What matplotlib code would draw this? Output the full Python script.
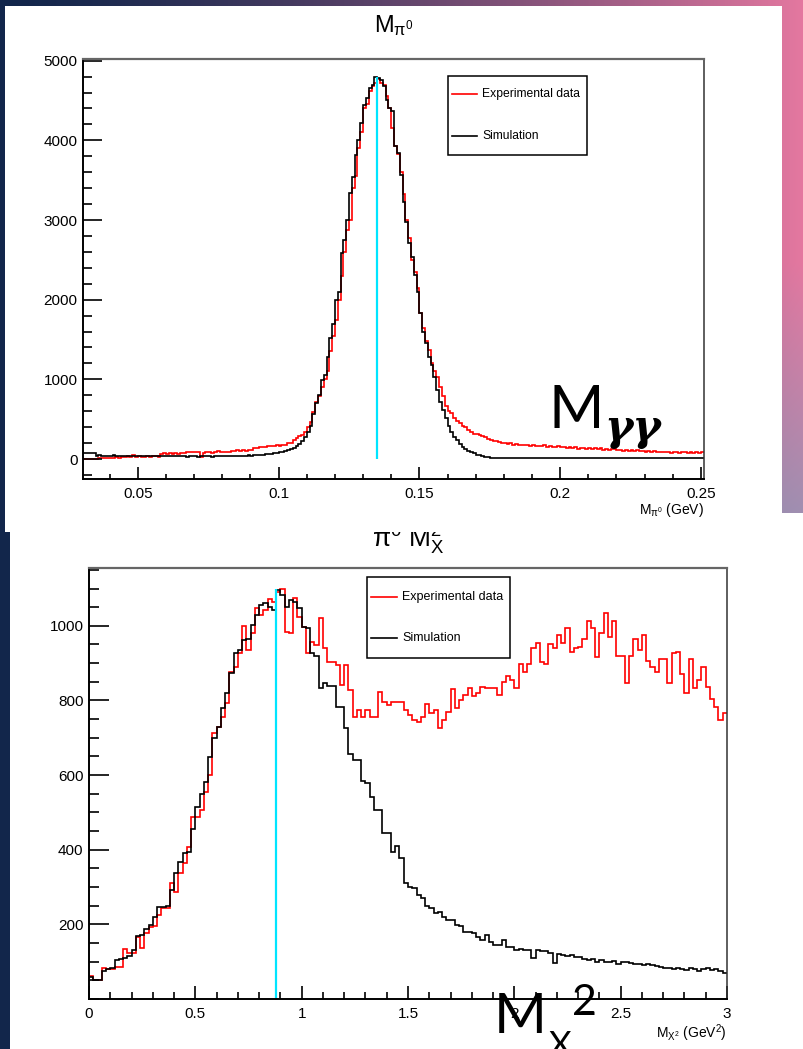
import numpy as np
import matplotlib
matplotlib.use('Agg')
import matplotlib.pyplot as plt
from matplotlib.ticker import MultipleLocator, FuncFormatter
from matplotlib.patches import Rectangle

# ---------------- data ----------------
top_bin_start = 0.030
top_bin_width = 0.001
top_sim = [
    75, 72, 78, 70, 74,
    40, 45, 38, 42, 36, 40, 44, 38, 35, 41,
    37, 40, 35, 38, 42, 36, 39, 33, 37, 41,
    35, 38, 34, 37, 40, 32, 36, 39, 35, 33,
    38, 36, 31, 35, 38, 34, 30, 35, 37, 33,
    36, 31, 35, 38, 34, 36, 32, 37, 40, 35,
    38, 42, 39, 41, 45, 43, 48, 46, 52, 55,
    58, 62, 68, 72, 80, 86, 92, 100, 110,
    120, 135, 160, 190, 230, 280, 340, 420, 570, 700,
    804, 990, 1055, 1285, 1516, 1700, 1997, 2100, 2584, 2750,
    3003, 3338, 3546, 3819, 4008, 4217, 4447, 4531, 4657, 4698,
    4790, 4782, 4761, 4677, 4510, 4405, 4363, 3923, 3840, 3570,
    3220, 2980, 2710, 2540, 2310, 2100, 1830, 1600, 1450, 1280,
    1180, 1030, 870, 720, 616, 520, 420, 340, 280, 235,
    190, 155, 125, 105, 85, 70, 55, 45, 35, 28,
    22, 16, 12,
    10, 12, 9, 11, 10, 8, 12, 10, 9, 11,
    10, 8, 9, 12, 10, 11, 9, 8, 10, 12,
    9, 10, 11, 8, 10, 9, 12, 10, 8, 11,
    9, 10, 12, 9, 8, 10, 11, 9, 10, 8,
    12, 10, 9, 11, 10, 8, 9, 10, 12, 9,
    11, 10, 8, 10, 9, 11, 10, 12, 9, 8,
    10, 11, 9, 10, 8, 12, 10, 9, 11, 10,
    14, 9, 10, 8,
]
top_exp = [
    0, 0, 2, 0, 3, 5, 8,
    12, 15, 10, 18, 14, 20, 16, 22, 25,
    40, 30, 45, 28, 35,
    30, 25, 35, 28, 32, 38, 30,
    62, 70, 66, 75, 68, 72, 60, 74, 70,
    85, 90, 82, 88, 86,
    30,
    78, 85, 92, 80, 88, 95, 84, 90, 86, 94, 98,
    100, 108, 104, 112, 106, 110, 118,
    140, 132, 148, 145, 150,
    160, 168, 158, 172, 165, 175, 180,
    195, 200,
    240, 260, 285, 300, 340, 400, 460,
    590, 720,
    790, 900, 1000, 1100, 1350, 1550, 1750, 2000, 2300, 2600,
    2880, 3000, 3400, 3550, 3900, 4100, 4400, 4450, 4620, 4680,
    4720, 4770, 4720, 4690, 4560, 4400, 4150, 3930, 3830,
    3600, 3330, 3000, 2780, 2500, 2350, 2150, 1830, 1650, 1480,
    1370, 1200, 1100, 1030, 900, 790, 660, 600, 575, 520,
    480, 450, 420, 400, 370, 340, 320, 310, 300, 290,
    270, 250, 240, 230, 220, 210, 205, 200,
    190, 195, 180, 188, 176, 182, 170, 175, 168, 172,
    160, 165, 158, 170, 150, 162, 155, 148, 158, 145,
    150, 140, 152, 138, 145, 130, 142, 135, 128, 140,
    125, 132, 120, 135, 118, 128, 115, 122, 130, 112,
    118, 105, 115, 100, 112, 98, 108, 95, 104, 92,
    100, 88, 96, 85, 94, 82, 90, 86, 80, 92,
    84, 78, 90, 82, 76, 88, 80, 85, 78, 82,
]
top_marker = 0.1351
top_marker_top = 4795

bot_bin_start = 0.0
bot_bin_width = 0.02
bot_sim = [
    60, 50, 52, 75, 80, 83, 104, 108, 110, 116,
    131, 168, 172, 187, 198, 220, 246, 246, 250, 292,
    338, 368, 392, 395, 455, 514, 549, 582, 649, 700,
    730, 780, 821, 873, 926, 935, 962, 966, 1002, 1029,
    1056, 1060, 1051, 1042, 1096, 1083, 1051, 1069, 1065, 1047,
    998, 993, 927, 920, 833, 846, 840, 840, 783, 783,
    726, 656, 640, 640, 584, 578, 542, 506, 506, 444,
    444, 395, 410, 377, 310, 300, 297, 279, 270, 250,
    245, 230, 234, 220, 212, 212, 198, 195, 180, 180,
    176, 167, 158, 171, 154, 145, 145, 158, 140, 140,
    131, 133, 131, 130, 109, 131, 128, 128, 122, 97,
    120, 118, 116, 118, 112, 112, 108, 104, 106, 100,
    104, 100, 98, 102, 95, 98, 100, 96, 94, 95,
    92, 95, 90, 88, 86, 84, 82, 80, 84, 80,
    78, 82, 80, 76, 80, 82, 78, 80, 74, 69,
]
bot_exp = [
    61, 50, 52, 82, 80, 80, 86, 86, 134, 122,
    122, 167, 136, 178, 193, 195, 225, 243, 243, 310,
    288, 337, 364, 408, 488, 488, 506, 555, 600, 712,
    730, 756, 792, 877, 890, 927, 1000, 935, 980, 1047,
    1029, 1042, 1072, 1065, 1091, 1100, 984, 981, 1074, 1024,
    998, 928, 957, 948, 1020, 940, 904, 904, 895, 841,
    895, 828, 757, 775, 757, 775, 757, 757, 824, 797,
    788, 797, 797, 797, 775, 760, 748, 743, 757, 790,
    766, 775, 725, 748, 768, 830, 779, 801, 815, 833,
    812, 819, 837, 834, 834, 834, 815, 850, 865, 855,
    833, 899, 875, 899, 940, 953, 904, 899, 950, 940,
    975, 953, 993, 931, 940, 944, 966, 1013, 993, 917,
    981, 1034, 969, 1014, 919, 919, 848, 919, 966, 935,
    975, 906, 890, 877, 910, 910, 848, 926, 931, 872,
    819, 910, 833, 855, 890, 837, 805, 783, 748, 766,
]
bot_marker = 0.879
bot_marker_top = 1100

legend_labels = ['Experimental data', 'Simulation']
series_colors = ['#ff0000', '#000000']
top_title = r'M$_{\mathrm{π}^{0}}$'
bot_title = r'$\mathrm{π}^{0}$ M$_{X}^{2}$'
top_xlabel = r'M$_{\mathrm{π}^{0}}$ (GeV)'
bot_xlabel = r'M$_{X^{2}}$ (GeV$^{2}$)'

assert len(top_sim) == 221 and len(top_exp) == 221
assert len(bot_sim) == 150 and len(bot_exp) == 150

# ---------------- style ----------------
plt.rcParams['font.family'] = ['Liberation Sans', 'DejaVu Sans']
plt.rcParams['mathtext.fontset'] = 'custom'
plt.rcParams['mathtext.rm'] = 'Liberation Sans'
plt.rcParams['mathtext.it'] = 'Liberation Sans:italic'
plt.rcParams['mathtext.bf'] = 'Liberation Sans:bold'
plt.rcParams['mathtext.default'] = 'regular'

W, H = 804, 1049
fig = plt.figure(figsize=(W / 100, H / 100), dpi=100)

# background (decoration)
bg = fig.add_axes([0, 0, 1, 1], zorder=0)
bg.set_xlim(0, W)
bg.set_ylim(H, 0)
bg.axis('off')
xx = np.linspace(0, 1, W)[None, :, None]
yy = np.linspace(0, 1, H)[:, None, None]
navy = np.array([18, 38, 75]) / 255
pink = np.array([228, 120, 160]) / 255
teal = np.array([110, 160, 190]) / 255
img = navy * (1 - xx ** 1.4) + pink * xx ** 1.4
s = np.clip((yy - 0.25) / 0.25, 0, 1) * (xx > 0.95)
img = img * (1 - 0.6 * s) + teal * 0.6 * s
img = np.broadcast_to(img, (H, W, 3))
bg.imshow(img, extent=(0, W, H, 0), aspect='auto', zorder=0)
bg.add_patch(Rectangle((10, 513), W - 10, H - 513, facecolor='white',
                       edgecolor='none', zorder=1))
bg.text(408, 548, bot_title, fontsize=19, ha='center', va='baseline', zorder=2)
bg.add_patch(Rectangle((5, 6), 777, 526, facecolor='white',
                       edgecolor='none', zorder=3))
bg.text(394, 32, top_title, fontsize=17, ha='center', va='baseline', zorder=4)


def style_axes(ax, ymaj_len, ymin_len, xmaj_len, xmin_len):
    ax.tick_params(which='both', direction='in', top=False, right=False,
                   labelsize=11, width=1.2, color='black')
    ax.tick_params(axis='y', which='major', length=ymaj_len, pad=4)
    ax.tick_params(axis='y', which='minor', length=ymin_len)
    ax.tick_params(axis='x', which='major', length=xmaj_len, pad=6)
    ax.tick_params(axis='x', which='minor', length=xmin_len)
    for side in ('left', 'bottom'):
        ax.spines[side].set_linewidth(1.4)
        ax.spines[side].set_color('black')
    ax.spines['top'].set_color('#666666')
    ax.spines['top'].set_linewidth(1.6)
    ax.spines['right'].set_color('#333333')
    ax.spines['right'].set_linewidth(1.1)
    ax.xaxis.set_major_formatter(FuncFormatter(lambda v, _: f'{v:g}'))
    ax.yaxis.set_major_formatter(FuncFormatter(lambda v, _: f'{v:g}'))


# ---------------- top plot ----------------
ax1 = fig.add_axes([83 / W, 1 - 479 / H, 621 / W, 420 / H], zorder=5)
edges_top = top_bin_start + top_bin_width * np.arange(len(top_sim) + 1)
ax1.stairs(top_exp, edges_top, color=series_colors[0], lw=1.2, baseline=None)
ax1.stairs(top_sim, edges_top, color=series_colors[1], lw=1.2, baseline=None)
ax1.vlines(top_marker, 0, top_marker_top, color='#00e5ff', lw=1.6)
ax1.set_xlim(0.0305, 0.2511)
ax1.set_ylim(-251, 5021)
ax1.xaxis.set_major_locator(MultipleLocator(0.05))
ax1.xaxis.set_minor_locator(MultipleLocator(0.01))
ax1.yaxis.set_major_locator(MultipleLocator(1000))
ax1.yaxis.set_minor_locator(MultipleLocator(200))
style_axes(ax1, 13.7, 6.5, 8.6, 3.6)
ax1.set_xlabel(top_xlabel, loc='right', fontsize=10, labelpad=0)

# ---------------- bottom plot ----------------
ax2 = fig.add_axes([89 / W, 1 - 999 / H, 638 / W, 431 / H], zorder=5)
edges_bot = bot_bin_start + bot_bin_width * np.arange(len(bot_sim) + 1)
ax2.stairs(bot_exp, edges_bot, color=series_colors[0], lw=1.2, baseline=None)
ax2.stairs(bot_sim, edges_bot, color=series_colors[1], lw=1.2, baseline=None)
ax2.vlines(bot_marker, 0, bot_marker_top, color='#00e5ff', lw=1.6)
ax2.set_xlim(0, 3)
ax2.set_ylim(0, 1155)
ax2.xaxis.set_major_locator(MultipleLocator(0.5))
ax2.xaxis.set_minor_locator(MultipleLocator(0.1))
ax2.set_yticks([200, 400, 600, 800, 1000])
ax2.yaxis.set_minor_locator(MultipleLocator(50))
style_axes(ax2, 14.4, 7.2, 9.4, 5.0)
ax2.set_xlabel(bot_xlabel, loc='right', fontsize=10, labelpad=1)

# ---------------- overlay: legends and annotations ----------------
ov = fig.add_axes([0, 0, 1, 1], zorder=10)
ov.set_xlim(0, W)
ov.set_ylim(H, 0)
ov.axis('off')

# top legend
ov.add_patch(Rectangle((448, 76), 139, 79, fill=False, ec='black', lw=1.1))
for lab, col, yy_ in zip(legend_labels, series_colors, (94, 136)):
    ov.plot([452, 477], [yy_, yy_], color=col, lw=1.2)
    ov.text(482, yy_, lab, fontsize=8.7, va='center', ha='left')
# bottom legend
ov.add_patch(Rectangle((367, 577), 143, 81, fill=False, ec='black', lw=1.1))
for lab, col, yy_ in zip(legend_labels, series_colors, (597, 638)):
    ov.plot([371, 397], [yy_, yy_], color=col, lw=1.2)
    ov.text(402, yy_, lab, fontsize=9, va='center', ha='left')

# big annotations
ov.text(549, 428, 'M', fontfamily='Lato', fontsize=43, va='baseline', ha='left')
ov.text(604, 440, 'γγ', fontfamily='DejaVu Serif', fontweight='bold',
        fontstyle='italic', fontsize=31, va='baseline', ha='left')
ov.text(494, 1033, 'M', fontfamily='Lato', fontsize=41, va='baseline', ha='left')
ov.text(549, 1056, 'X', fontfamily='Lato', fontsize=25, va='baseline', ha='left')
ov.text(572, 1015, '2', fontfamily='Lato', fontsize=31, va='baseline', ha='left')

fig.savefig('out.png', dpi=100)
